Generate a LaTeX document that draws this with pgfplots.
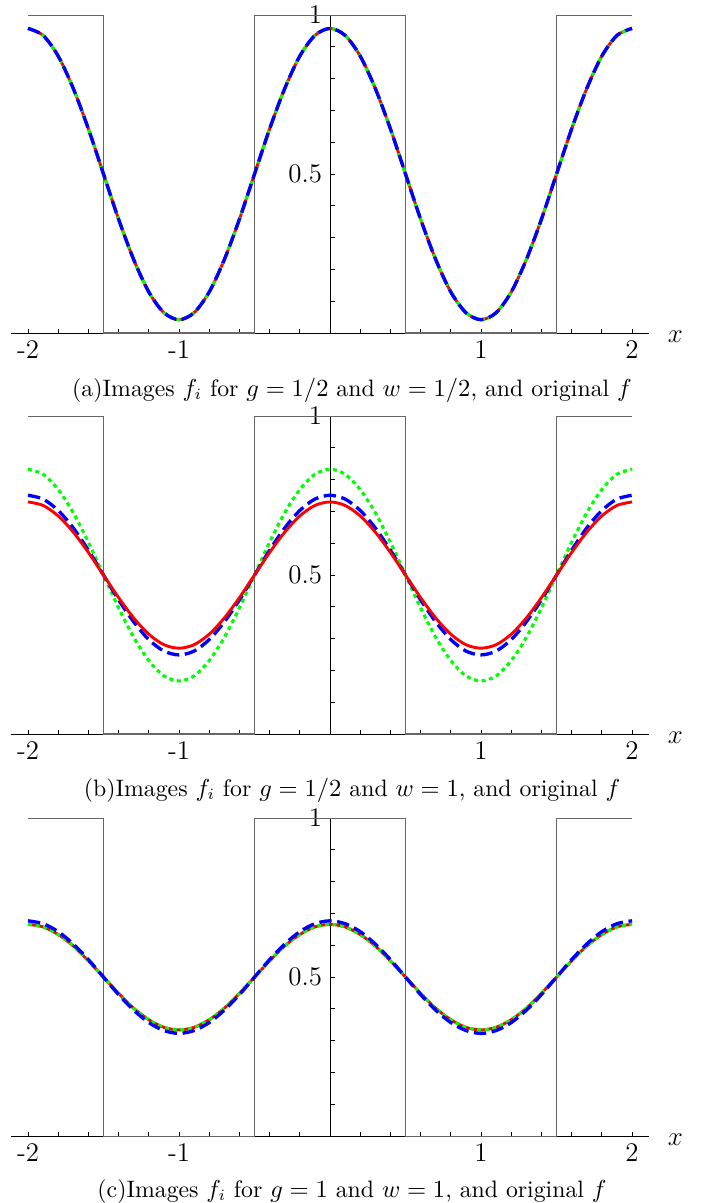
\documentclass[border=0pt]{standalone}
\usepackage{pgfplots}
\pgfplotsset{compat=1.18}
\usepackage{pgfplotstable}

% x, panel (a) curve, panel (b) green/blue/red, panel (c) green-red/blue
\pgfplotstableread{
x    a     bg    bb    br    cg    cb
-2.0 0.958 0.833 0.751 0.730 0.666 0.677
-1.9 0.936 0.817 0.739 0.719 0.658 0.668
-1.8 0.871 0.769 0.703 0.686 0.634 0.643
-1.7 0.769 0.696 0.648 0.635 0.598 0.604
-1.6 0.642 0.603 0.578 0.571 0.551 0.555
-1.5 0.500 0.500 0.500 0.500 0.500 0.500
-1.4 0.358 0.397 0.422 0.429 0.449 0.445
-1.3 0.231 0.304 0.353 0.365 0.402 0.396
-1.2 0.129 0.231 0.297 0.314 0.366 0.357
-1.1 0.064 0.183 0.261 0.281 0.342 0.332
-1.0 0.042 0.167 0.249 0.270 0.334 0.323
-0.9 0.064 0.183 0.261 0.281 0.342 0.332
-0.8 0.129 0.231 0.297 0.314 0.366 0.357
-0.7 0.231 0.304 0.353 0.365 0.402 0.396
-0.6 0.358 0.397 0.422 0.429 0.449 0.445
-0.5 0.500 0.500 0.500 0.500 0.500 0.500
-0.4 0.642 0.603 0.578 0.571 0.551 0.555
-0.3 0.769 0.696 0.648 0.635 0.598 0.604
-0.2 0.871 0.769 0.703 0.686 0.634 0.643
-0.1 0.936 0.817 0.739 0.719 0.658 0.668
 0.0 0.958 0.833 0.751 0.730 0.666 0.677
 0.1 0.936 0.817 0.739 0.719 0.658 0.668
 0.2 0.871 0.769 0.703 0.686 0.634 0.643
 0.3 0.769 0.696 0.648 0.635 0.598 0.604
 0.4 0.642 0.603 0.578 0.571 0.551 0.555
 0.5 0.500 0.500 0.500 0.500 0.500 0.500
 0.6 0.358 0.397 0.422 0.429 0.449 0.445
 0.7 0.231 0.304 0.353 0.365 0.402 0.396
 0.8 0.129 0.231 0.297 0.314 0.366 0.357
 0.9 0.064 0.183 0.261 0.281 0.342 0.332
 1.0 0.042 0.167 0.249 0.270 0.334 0.323
 1.1 0.064 0.183 0.261 0.281 0.342 0.332
 1.2 0.129 0.231 0.297 0.314 0.366 0.357
 1.3 0.231 0.304 0.353 0.365 0.402 0.396
 1.4 0.358 0.397 0.422 0.429 0.449 0.445
 1.5 0.500 0.500 0.500 0.500 0.500 0.500
 1.6 0.642 0.603 0.578 0.571 0.551 0.555
 1.7 0.769 0.696 0.648 0.635 0.598 0.604
 1.8 0.871 0.769 0.703 0.686 0.634 0.643
 1.9 0.936 0.817 0.739 0.719 0.658 0.668
 2.0 0.958 0.833 0.751 0.730 0.666 0.677
}\curves

\pgfplotsset{
  panel/.style={
    scale only axis, width=284.2pt, height=141.8pt,
    xmin=-2.11, xmax=2.11, ymin=0, ymax=1,
    axis lines=middle, axis line style={-, black, line width=0.4pt},
    clip=false, anchor=origin,
    xtick={-2,-1,1,2}, xticklabels={-2,-1,1,2},
    minor xtick={-1.8,-1.6,-1.4,-1.2,-0.8,-0.6,-0.4,-0.2,0,0.2,0.4,0.6,0.8,1.2,1.4,1.6,1.8},
    ytick={0.5,1}, minor ytick={0.1,0.2,0.3,0.4,0.6,0.7,0.8,0.9},
    tick align=inside, major tick length=2pt, minor tick length=2pt,
    tick style={black, line width=0.4pt},
    tick label style={font=\large},
    xlabel={$x$},
    xlabel style={font=\large, at={(axis description cs:1,0)}, anchor=west, xshift=5pt, yshift=-1.5pt},
  },
  sq/.style={black!60, line width=0.5pt},
  rd/.style={red, line width=1.3pt, smooth},
  gn/.style={green, line width=1.4pt, dash pattern=on 1.8pt off 1.6pt, smooth},
  bl/.style={blue, line width=1.5pt, dash pattern=on 5.5pt off 2.5pt, smooth},
}
\tikzset{capt/.style={anchor=base, font=\fontsize{10.6}{12.5}\selectfont}}

\begin{document}
\begin{tikzpicture}
\path[use as bounding box] (0,0) rectangle (314.0pt,-536.5pt);

\begin{axis}[panel, at={(147.18pt,-148.52pt)}]
\addplot[sq] coordinates {(-2,1) (-1.5,1) (-1.5,0) (-0.5,0) (-0.5,1) (0.5,1) (0.5,0) (1.5,0) (1.5,1) (2,1)};
\addplot[rd] table[x=x,y=a]{\curves};
\addplot[gn] table[x=x,y=a]{\curves};
\addplot[bl] table[x=x,y=a]{\curves};
\end{axis}
\node[capt] at (157.0pt,-176.6pt) {(a)Images $f_i$ for $g=1/2$ and $w=1/2$, and original $f$};

\begin{axis}[panel, at={(147.18pt,-327.36pt)}]
\addplot[sq] coordinates {(-2,1) (-1.5,1) (-1.5,0) (-0.5,0) (-0.5,1) (0.5,1) (0.5,0) (1.5,0) (1.5,1) (2,1)};
\addplot[gn] table[x=x,y=bg]{\curves};
\addplot[bl] table[x=x,y=bb]{\curves};
\addplot[rd] table[x=x,y=br]{\curves};
\end{axis}
\node[capt] at (157.0pt,-355.0pt) {(b)Images $f_i$ for $g=1/2$ and $w=1$, and original $f$};

\begin{axis}[panel, at={(147.18pt,-506.66pt)}]
\addplot[sq] coordinates {(-2,1) (-1.5,1) (-1.5,0) (-0.5,0) (-0.5,1) (0.5,1) (0.5,0) (1.5,0) (1.5,1) (2,1)};
\addplot[rd] table[x=x,y=cg]{\curves};
\addplot[gn] table[x=x,y=cg]{\curves};
\addplot[bl] table[x=x,y=cb]{\curves};
\end{axis}
\node[capt] at (157.0pt,-533.9pt) {(c)Images $f_i$ for $g=1$ and $w=1$, and original $f$};
\end{tikzpicture}
\end{document}
